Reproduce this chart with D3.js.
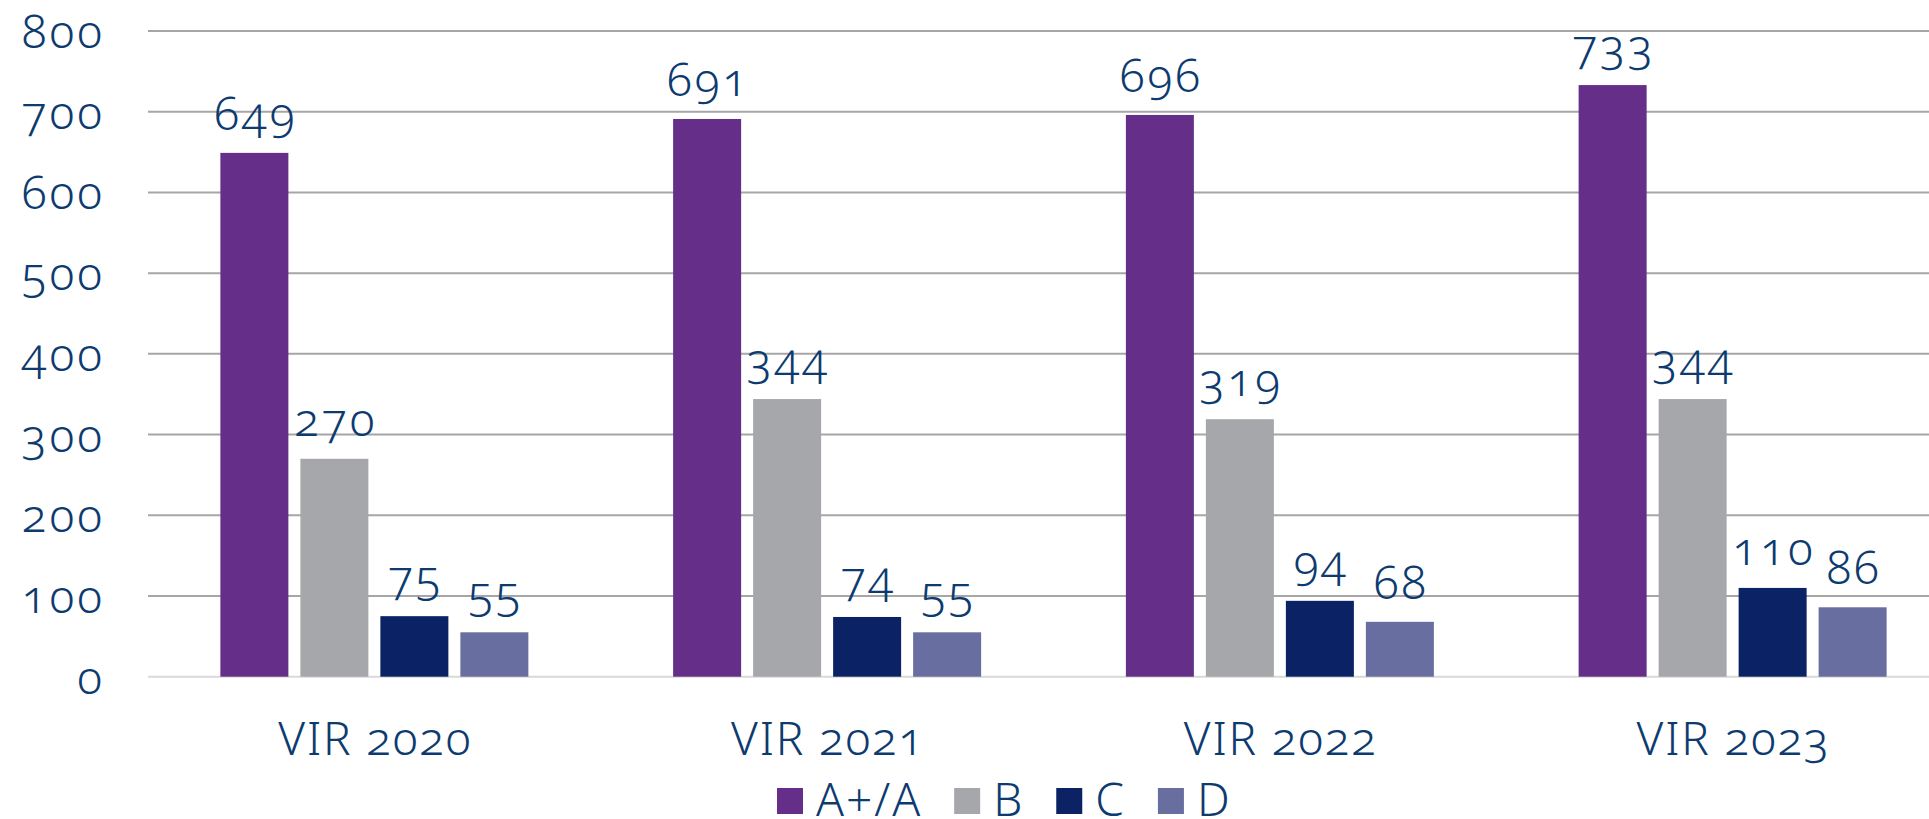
<!DOCTYPE html>
<html>
<head>
<meta charset="utf-8">
<script src="https://cdn.jsdelivr.net/npm/d3@7"></script>
<style>
  body { margin: 0; background: #fff; }
  text {
    font-family: "Noto Sans", sans-serif;
    font-weight: 300;
    font-variant-numeric: oldstyle-nums;
    font-feature-settings: "onum" 1;
    fill: #0d3b70;
  }
</style>
</head>
<body>
<div class="chart"></div>
<script>
// data
var categories = ["VIR 2020", "VIR 2021", "VIR 2022", "VIR 2023"];
var seriesNames = ["A+/A", "B", "C", "D"];
var valuesAA = [649, 691, 696, 733];
var valuesB = [270, 344, 319, 344];
var valuesC = [75, 74, 94, 110];
var valuesD = [55, 55, 68, 86];
var yTicks = [0, 100, 200, 300, 400, 500, 600, 700, 800];

var colors = ["#652e89", "#a6a7ab", "#0b2265", "#686ea0"];
var allValues = [valuesAA, valuesB, valuesC, valuesD];

var svgWidth = 1929;
var svgHeight = 819;

var margin = { left: 148, top: 31 };
var plotRight = 1959;   // chart runs past the right edge of the picture
var zeroY = 676.7;

var svg = d3.select(".chart")
  .append("svg")
  .attr("width", svgWidth)
  .attr("height", svgHeight);

var x0 = d3.scaleBand()
  .domain(categories)
  .range([margin.left, plotRight])
  .padding(0);

var groupWidth = 308;
var x1 = d3.scaleBand()
  .domain(seriesNames)
  .range([0, groupWidth])
  .paddingInner(0.15)
  .paddingOuter(0);

var y = d3.scaleLinear()
  .domain([0, 800])
  .range([zeroY, margin.top]);

// gridlines
svg.append("g")
  .selectAll("line")
  .data(yTicks)
  .enter()
  .append("line")
  .attr("x1", margin.left)
  .attr("x2", svgWidth)
  .attr("y1", d => y(d))
  .attr("y2", d => y(d))
  .attr("stroke", d => d === 0 ? "#d9d9d9" : "#a6a6a6")
  .attr("stroke-width", 2);

// y axis labels
svg.append("g")
  .selectAll("text")
  .data(yTicks)
  .enter()
  .append("text")
  .attr("x", 105)
  .attr("y", d => y(d) + 17)
  .attr("text-anchor", "end")
  .style("font-size", "46px")
  .style("letter-spacing", "3px")
  .text(d => d);

// bars
var rows = [];
categories.forEach((c, i) => {
  seriesNames.forEach((s, j) => {
    rows.push({ cat: c, series: s, value: allValues[j][i], color: colors[j] });
  });
});

function barX(d) {
  return x0(d.cat) + x0.bandwidth() / 2 - groupWidth / 2 + x1(d.series);
}

svg.append("g")
  .selectAll("rect")
  .data(rows)
  .enter()
  .append("rect")
  .attr("x", d => barX(d))
  .attr("y", d => y(d.value))
  .attr("width", x1.bandwidth())
  .attr("height", d => y(0) - y(d.value))
  .attr("fill", d => d.color);

// value labels
svg.append("g")
  .selectAll("text")
  .data(rows)
  .enter()
  .append("text")
  .attr("x", d => barX(d) + x1.bandwidth() / 2 + 1.5)
  .attr("y", d => y(d.value) - 23)
  .attr("text-anchor", "middle")
  .style("font-size", "46px")
  .style("letter-spacing", "3px")
  .text(d => d.value);

// category labels
svg.append("g")
  .selectAll("text")
  .data(categories)
  .enter()
  .append("text")
  .attr("x", d => x0(d) + x0.bandwidth() / 2 + 1)
  .attr("y", 755)
  .attr("text-anchor", "middle")
  .style("font-size", "46px")
  .style("letter-spacing", "1.8px")
  .text(d => d);

// legend
var legend = svg.append("g");
var lx = 777;
seriesNames.forEach((s, j) => {
  legend.append("rect")
    .attr("x", lx)
    .attr("y", 788)
    .attr("width", 26)
    .attr("height", 26)
    .attr("fill", colors[j]);
  var t = legend.append("text")
    .attr("x", lx + 39)
    .attr("y", 816)
    .style("font-size", "46px")
    .style("letter-spacing", "2px")
    .text(s);
  lx = lx + 39 + t.node().getComputedTextLength() + 32;
});
</script>
</body>
</html>
